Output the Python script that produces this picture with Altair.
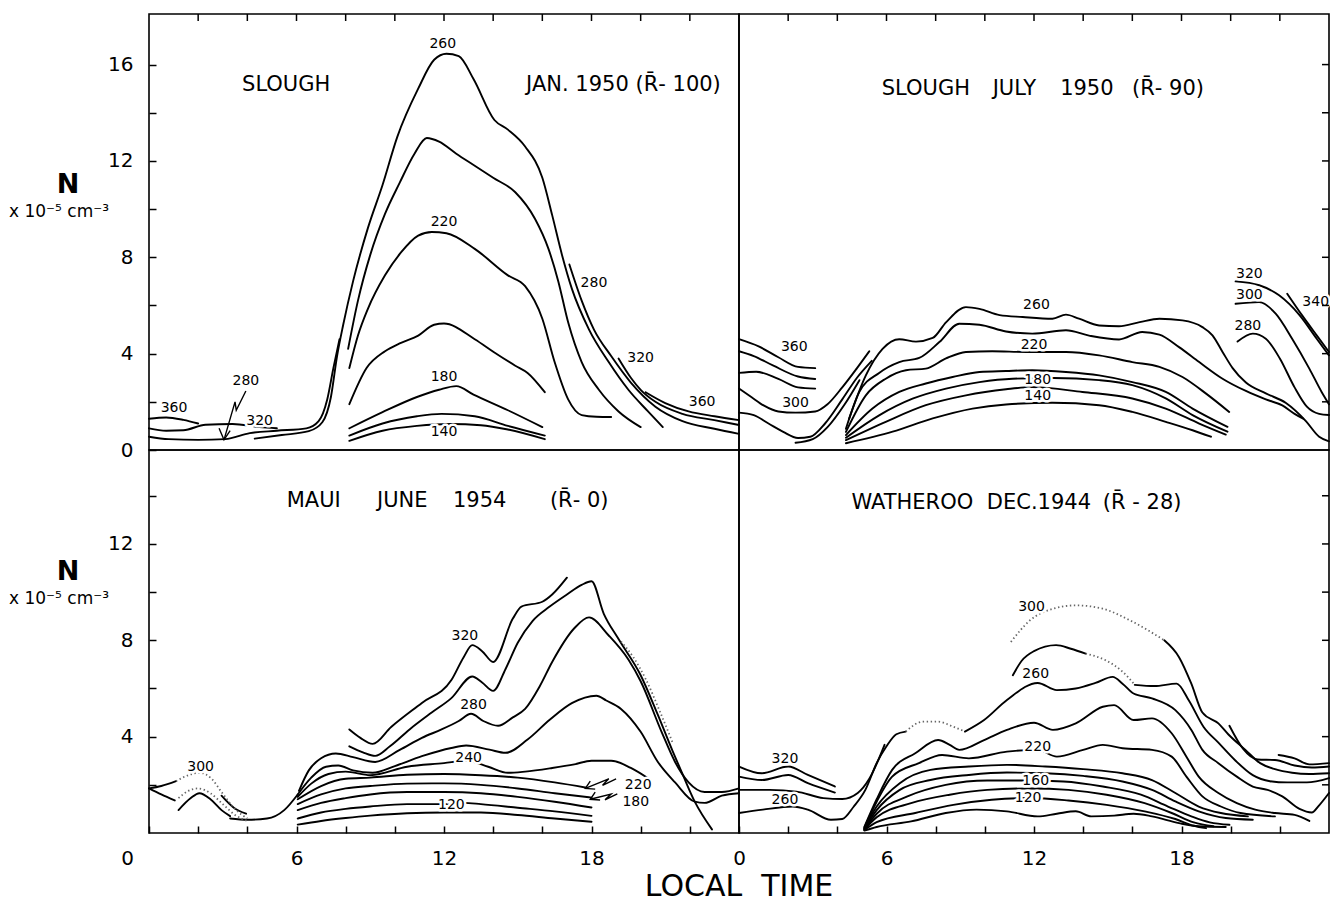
import altair as alt
import pandas as pd

FONT = "DejaVu Sans"
W = 590
H_TOP = 436
H_BOT = 383
Y_TOP_MAX = 18.1
Y_BOT_MAX = 15.9

# ---------------- tick positions ----------------
X_TICKS = [0, 2, 4, 6, 8, 10, 12, 14, 16, 18, 20, 22]
X_EDGE_TICKS = [2, 4, 6, 8, 10, 12, 14, 16, 18, 20, 22]
Y_TICKS_TOP = [0, 2, 4, 6, 8, 10, 12, 14, 16]
Y_TICKS_BOT = [2, 4, 6, 8, 10, 12, 14]

# ---------------- SLOUGH  JAN. 1950 ----------------
JAN_360_NIGHT = [(0.0, 1.3), (0.7, 1.35), (1.4, 1.25), (2.0, 1.1)]
JAN_320_NIGHT = [(0.0, 0.9), (0.7, 0.8), (1.4, 0.82), (2.3, 1.05), (3.4, 1.08), (4.5, 0.95), (5.2, 0.9)]
JAN_280_NIGHT = [(0.0, 0.55), (0.8, 0.45), (2.0, 0.42), (3.1, 0.45), (4.1, 0.7), (5.2, 0.8), (6.4, 0.9),
                 (6.9, 1.2), (7.25, 2.1), (7.5, 3.4), (7.75, 4.6)]
JAN_260 = [(4.3, 0.47), (5.4, 0.62), (6.5, 0.78), (7.05, 1.15), (7.4, 2.2), (7.65, 3.9), (7.9, 5.2), (8.3, 7.0),
           (8.9, 9.2), (9.5, 11.0), (10.1, 13.0), (10.95, 15.0), (11.6, 16.2), (12.1, 16.45), (12.6, 16.35),
           (13.2, 15.4), (14.05, 13.7), (14.6, 13.3), (15.3, 12.6), (16.0, 11.3), (16.4, 9.75), (16.8, 8.1),
           (17.2, 6.7), (17.9, 5.0), (18.7, 3.65), (19.5, 2.5), (20.3, 1.6), (20.9, 0.95)]
JAN_240 = [(8.1, 4.2), (8.5, 6.2), (9.0, 8.1), (9.6, 9.8), (10.2, 11.1), (10.8, 12.3), (11.3, 12.95), (11.8, 12.8),
           (12.5, 12.3), (13.25, 11.8), (14.0, 11.3), (14.9, 10.7), (15.7, 9.6), (16.25, 8.35), (16.65, 7.0),
           (17.05, 5.3), (17.6, 3.65), (18.3, 2.5), (19.1, 1.6), (20.0, 0.95)]
JAN_220 = [(8.15, 3.4), (8.5, 4.75), (8.9, 5.85), (9.6, 7.25), (10.25, 8.2), (10.95, 8.9), (11.5, 9.05), (12.1, 9.0),
           (13.25, 8.35), (14.6, 7.25), (15.3, 6.8), (16.0, 5.45), (16.5, 3.65), (17.05, 2.1), (17.6, 1.45),
           (18.2, 1.38), (18.8, 1.37)]
JAN_200 = [(8.15, 1.9), (8.85, 3.4), (9.6, 4.1), (10.25, 4.45), (10.95, 4.75), (11.6, 5.2), (12.0, 5.25),
           (13.25, 4.6), (14.05, 4.05), (14.9, 3.5), (15.4, 3.2), (16.1, 2.4)]
JAN_180 = [(8.15, 0.9), (9.5, 1.57), (10.9, 2.2), (11.8, 2.5), (12.5, 2.65), (13.2, 2.3), (14.6, 1.65), (16.0, 0.95)]
JAN_160 = [(8.15, 0.6), (9.5, 1.1), (10.9, 1.4), (11.9, 1.5), (13.25, 1.4), (14.6, 1.0), (16.1, 0.6)]
JAN_140 = [(8.15, 0.38), (9.5, 0.8), (10.9, 1.0), (12.25, 1.08), (13.5, 1.03), (14.6, 0.85), (16.1, 0.45)]
JAN_280_EVE = [(17.1, 7.7), (17.6, 6.2), (18.1, 5.0), (18.8, 3.9), (19.6, 2.8), (20.6, 1.8), (21.7, 1.2),
               (23.0, 0.88), (24.0, 0.67)]
JAN_320_EVE = [(19.1, 3.8), (19.6, 3.0), (20.0, 2.5), (20.6, 2.0), (21.7, 1.5), (23.0, 1.24), (24.0, 1.04)]
JAN_360_EVE = [(20.2, 2.4), (21.0, 1.95), (21.95, 1.6), (23.0, 1.4), (24.0, 1.24)]
JAN_ARROW = [(3.94, 2.45), (3.55, 1.65), (3.5, 2.0), (3.05, 0.42)]
JAN_ARROW_HEAD = [(2.85, 0.9), (3.05, 0.42), (3.3, 0.8)]
JAN_LABELS = [("360", 1.02, 1.75), ("280", 3.94, 2.86), ("320", 4.5, 1.2), ("260", 11.95, 16.85),
              ("220", 12.0, 9.45), ("180", 12.0, 3.05), ("140", 12.0, 0.75), ("280", 18.1, 6.95),
              ("320", 20.0, 3.8), ("360", 22.5, 2.0)]
JAN_TITLES = [("SLOUGH", 5.58, 15.15), ("JAN. 1950 (R\u0304- 100)", 19.3, 15.15)]

# ---------------- SLOUGH  JULY 1950 ----------------
JUL_360_NIGHT = [(0.0, 4.6), (0.8, 4.3), (1.6, 3.85), (2.4, 3.45), (3.1, 3.4)]
JUL_340_NIGHT = [(0.0, 4.1), (0.6, 3.9), (1.4, 3.5), (2.4, 3.05), (3.1, 2.95)]
JUL_320_NIGHT = [(0.0, 3.2), (0.7, 3.25), (1.6, 2.95), (2.4, 2.6), (3.1, 2.55)]
JUL_300_NIGHT = [(0.0, 2.55), (0.5, 2.2), (1.0, 1.85), (1.6, 1.6), (2.3, 1.55), (3.1, 1.6), (3.6, 1.9),
                 (4.2, 2.6), (4.8, 3.4), (5.3, 4.1)]
JUL_280_NIGHT = [(0.0, 1.55), (0.6, 1.45), (1.2, 1.1), (1.8, 0.75), (2.4, 0.5), (2.9, 0.55), (3.5, 1.1),
                 (4.2, 2.1), (4.8, 3.0), (5.4, 3.7)]
JUL_260_NIGHT = [(2.3, 0.3), (3.0, 0.45), (3.6, 0.95), (4.3, 1.9), (4.9, 2.9)]
JUL_260 = [(4.48, 1.3), (5.16, 3.1), (5.84, 4.2), (6.52, 4.6), (7.2, 4.5), (7.88, 4.65), (8.42, 5.3), (9.23, 5.93),
           (9.78, 5.86), (10.6, 5.6), (11.54, 5.52), (12.75, 5.45), (13.3, 5.62), (13.83, 5.45), (14.65, 5.17),
           (15.46, 5.14), (16.3, 5.31), (17.1, 5.45), (18.04, 5.38), (18.85, 5.1), (19.26, 4.76), (19.67, 4.07),
           (20.08, 3.4), (20.62, 2.8), (21.43, 2.35), (22.25, 1.95), (23.06, 1.2), (23.6, 0.55), (24.0, 0.36)]
JUL_240 = [(4.35, 0.88), (4.89, 2.4), (5.7, 3.2), (6.52, 3.65), (7.33, 3.82), (8.15, 4.48), (8.96, 5.24),
           (9.78, 5.2), (10.86, 4.92), (11.93, 4.83), (13.3, 4.97), (14.24, 4.75), (15.46, 4.59), (16.4, 4.9),
           (17.1, 4.79), (17.9, 4.27), (18.72, 3.65), (19.67, 2.96), (20.62, 2.45), (21.43, 2.1), (22.1, 1.85),
           (22.6, 1.5), (22.95, 1.3)]
JUL_220 = [(4.35, 0.75), (5.16, 2.27), (5.97, 2.96), (6.79, 3.31), (7.6, 3.38), (8.42, 3.8), (9.23, 4.07),
           (10.3, 4.1), (11.68, 4.07), (13.3, 4.07), (14.65, 3.93), (16.0, 3.65), (17.1, 3.45), (18.04, 3.03),
           (19.0, 2.34), (19.94, 1.58)]
JUL_200 = [(4.35, 0.62), (5.43, 1.72), (6.52, 2.41), (7.6, 2.76), (8.69, 3.03), (9.78, 3.24), (10.86, 3.28),
           (11.93, 3.31), (13.3, 3.24), (14.65, 3.1), (16.0, 2.82), (17.36, 2.41), (18.45, 1.72), (19.87, 0.96)]
JUL_180 = [(4.35, 0.51), (5.7, 1.44), (7.06, 2.13), (8.42, 2.55), (9.78, 2.82), (11.13, 2.96), (12.8, 2.99),
           (14.65, 2.9), (16.0, 2.69), (17.36, 2.14), (18.45, 1.45), (19.87, 0.76)]
JUL_160 = [(4.35, 0.41), (5.97, 1.17), (7.6, 1.86), (9.23, 2.27), (10.86, 2.52), (11.93, 2.61), (13.97, 2.41),
           (16.0, 2.14), (17.36, 1.72), (18.72, 1.1), (19.8, 0.64)]
JUL_140 = [(4.35, 0.28), (6.25, 0.76), (7.88, 1.31), (9.5, 1.72), (10.86, 1.89), (12.75, 1.96), (14.65, 1.86),
           (16.0, 1.58), (17.36, 1.17), (18.45, 0.82), (19.2, 0.55)]
JUL_280_EVE = [(20.28, 4.5), (20.9, 4.83), (21.43, 4.62), (22.0, 3.8), (22.6, 2.6), (23.1, 1.8), (23.6, 1.5),
               (24.0, 1.45)]
JUL_300_EVE = [(20.2, 6.07), (21.16, 6.14), (21.84, 5.65), (22.5, 4.62), (23.2, 3.38), (23.7, 2.41), (24.0, 1.9)]
JUL_320_EVE = [(20.2, 7.0), (21.16, 6.84), (21.97, 6.42), (22.8, 5.6), (23.5, 4.62), (24.0, 3.93)]
JUL_340_EVE = [(22.3, 6.49), (22.9, 5.6), (23.5, 4.76), (24.0, 4.07)]
JUL_LABELS = [("360", 2.25, 4.27), ("300", 2.3, 1.96), ("260", 12.1, 6.0), ("220", 12.0, 4.35),
              ("180", 12.15, 2.9), ("140", 12.15, 2.24), ("320", 20.76, 7.32), ("300", 20.76, 6.42),
              ("280", 20.7, 5.14), ("340", 23.46, 6.14)]
JUL_TITLES = [("SLOUGH", 7.6, 15.0), ("JULY", 11.2, 15.0), ("1950", 14.15, 15.0), ("(R\u0304- 90)", 17.45, 15.0)]

# ---------------- MAUI  JUNE 1954 ----------------
MAUI_300_EARLY = [(0.0, 1.85), (0.5, 1.95), (1.1, 2.15)]
MAUI_300_DOTTED = [(1.1, 2.15), (1.6, 2.4), (2.05, 2.5), (2.55, 2.25), (2.95, 1.7), (3.5, 1.0), (4.0, 0.6)]
MAUI_260_EARLY = [(0.0, 1.85), (0.5, 1.6), (1.05, 1.35)]
MAUI_260_DOTTED = [(1.2, 1.45), (1.6, 1.75), (2.0, 1.85), (2.5, 1.65), (3.0, 1.2), (3.5, 0.75), (4.0, 0.5)]
MAUI_220_NIGHT = [(1.2, 0.95), (1.7, 1.45), (2.05, 1.65), (2.5, 1.4), (2.95, 0.95), (3.3, 0.7)]
MAUI_300_LATE = [(2.95, 1.55), (3.45, 1.05), (3.95, 0.8)]
MAUI_DAWN = [(3.3, 0.6), (4.0, 0.55), (4.8, 0.6), (5.5, 0.95), (6.05, 1.6)]
MAUI_320 = [(8.15, 4.3), (8.6, 3.95), (9.1, 3.7), (9.85, 4.4), (11.1, 5.4), (12.3, 6.35), (12.8, 7.3),
            (13.15, 7.8), (13.55, 7.55), (14.0, 7.1), (14.8, 8.9), (15.15, 9.4), (16.0, 9.6), (16.4, 9.9),
            (17.0, 10.6)]
MAUI_300 = [(8.15, 3.6), (8.7, 3.35), (9.2, 3.2), (9.8, 3.6), (10.6, 4.3), (11.5, 5.0), (12.3, 5.6), (13.15, 6.5),
            (13.55, 6.25), (14.0, 5.9), (14.5, 6.8), (15.0, 7.9), (15.6, 8.8), (16.3, 9.4), (17.0, 9.9),
            (17.6, 10.3), (18.0, 10.45), (18.5, 9.1), (19.1, 8.05), (20.0, 6.55), (20.7, 4.9), (21.3, 3.4),
            (21.7, 2.45), (22.2, 1.3), (22.9, 0.15)]
MAUI_300_EVE_DOTTED = [(19.2, 7.95), (19.7, 7.3), (20.2, 6.4), (20.8, 5.0), (21.3, 3.75)]
MAUI_280 = [(6.1, 1.75), (6.5, 2.6), (7.0, 3.1), (7.6, 3.3), (8.3, 3.15), (9.2, 2.95), (10.2, 3.45), (11.1, 3.95),
            (11.9, 4.3), (12.6, 4.65), (13.1, 4.95), (13.6, 4.65), (14.2, 4.45), (14.8, 4.8), (15.3, 5.15),
            (15.9, 6.1), (16.4, 7.1), (17.3, 8.5), (17.9, 8.95), (18.7, 8.2), (19.5, 7.2), (20.0, 6.3),
            (20.85, 4.2), (21.4, 2.95), (21.95, 2.1), (22.6, 1.7), (23.3, 1.7), (24.0, 1.85)]
MAUI_260 = [(6.05, 1.6), (6.6, 2.3), (7.2, 2.75), (7.7, 2.8), (8.3, 2.6), (9.1, 2.5), (10.0, 2.78), (11.1, 3.19),
            (12.3, 3.53), (12.9, 3.63), (13.85, 3.46), (14.5, 3.33), (15.4, 3.88), (16.3, 4.7), (17.2, 5.39),
            (18.2, 5.7), (18.6, 5.5), (19.2, 5.15), (20.0, 4.2), (20.7, 2.95), (21.4, 2.1), (22.2, 1.3),
            (22.6, 1.25), (23.3, 1.55), (24.0, 1.65)]
MAUI_240 = [(6.05, 1.5), (6.6, 2.05), (7.3, 2.45), (8.0, 2.55), (9.0, 2.4), (10.5, 2.75), (12.0, 2.9), (12.9, 3.0),
            (13.8, 2.75), (14.6, 2.5), (15.3, 2.55), (16.4, 2.7), (17.3, 2.85), (18.0, 3.0), (18.8, 3.0),
            (19.6, 2.7), (20.4, 2.2)]
MAUI_220 = [(6.05, 1.4), (7.0, 1.95), (8.0, 2.25), (9.0, 2.3), (10.5, 2.42), (12.0, 2.45), (13.5, 2.4),
            (15.0, 2.3), (16.5, 2.1), (17.8, 1.88)]
MAUI_200 = [(6.05, 1.2), (7.0, 1.6), (8.0, 1.85), (9.0, 1.95), (10.5, 2.05), (12.0, 2.06), (13.5, 2.0),
            (15.0, 1.85), (16.5, 1.65), (18.0, 1.47)]
MAUI_180 = [(6.05, 0.95), (7.0, 1.25), (8.0, 1.45), (9.0, 1.6), (10.5, 1.7), (12.0, 1.7), (13.5, 1.65),
            (15.0, 1.5), (16.5, 1.3), (18.0, 1.06)]
MAUI_140 = [(6.05, 0.6), (7.0, 0.85), (8.0, 1.0), (9.0, 1.1), (10.5, 1.2), (12.0, 1.2), (12.8, 1.25), (13.5, 1.2),
            (15.0, 1.05), (16.5, 0.9), (18.0, 0.71)]
MAUI_120 = [(6.05, 0.35), (7.0, 0.5), (8.0, 0.62), (9.0, 0.72), (10.5, 0.82), (12.0, 0.85), (13.5, 0.85),
            (15.0, 0.75), (16.5, 0.6), (18.0, 0.47)]
MAUI_ARROW_220 = [(19.0, 2.25), (18.45, 1.98), (18.7, 2.25), (17.75, 1.85)]
MAUI_ARROW_220_HEAD = [(17.95, 2.15), (17.75, 1.85), (18.15, 1.82)]
MAUI_ARROW_180 = [(19.05, 1.62), (18.55, 1.38), (18.8, 1.62), (17.95, 1.4)]
MAUI_ARROW_180_HEAD = [(18.15, 1.7), (17.95, 1.4), (18.35, 1.37)]
MAUI_LABELS = [("300", 2.1, 2.75), ("320", 12.85, 8.17), ("280", 13.2, 5.3), ("240", 13.0, 3.1),
               ("220", 19.9, 2.0), ("180", 19.8, 1.29), ("120", 12.3, 1.16)]
MAUI_TITLES = [("MAUI", 6.7, 13.8), ("JUNE", 10.3, 13.8), ("1954", 13.45, 13.8), ("(R\u0304- 0)", 17.5, 13.8)]

# ---------------- WATHEROO  DEC. 1944 ----------------
WAT_320_NIGHT = [(0.0, 2.76), (0.93, 2.48), (2.0, 2.76), (2.8, 2.41), (3.9, 1.93)]
WAT_300_NIGHT = [(0.0, 2.34), (0.93, 2.2), (2.0, 2.41), (2.8, 2.07), (3.9, 1.68)]
WAT_280_NIGHT = [(0.0, 1.79), (1.25, 1.79), (2.34, 1.72), (3.43, 1.45), (4.2, 1.41), (4.83, 1.66), (5.3, 2.25),
                 (5.92, 3.66)]
WAT_260_NIGHT = [(0.0, 0.83), (0.97, 0.97), (2.18, 1.1), (2.8, 0.97), (3.74, 0.55), (4.2, 0.58), (4.67, 1.1),
                 (5.14, 1.79), (5.6, 2.9), (6.0, 3.6), (6.4, 4.1), (6.78, 4.21)]
WAT_260_DOTTED = [(6.78, 4.21), (7.48, 4.62), (8.1, 4.62), (8.72, 4.41), (9.19, 4.21)]
WAT_260 = [(9.19, 4.21), (9.97, 4.69), (10.9, 5.52), (12.15, 6.23), (12.93, 5.93), (13.7, 6.0), (14.5, 6.23),
           (15.2, 6.48), (15.6, 6.2), (16.05, 5.79), (16.8, 5.59), (17.75, 5.1), (18.4, 4.28), (18.85, 3.45),
           (19.5, 2.9), (20.25, 2.34), (20.9, 1.93), (21.5, 1.79), (22.1, 1.52), (22.8, 1.0), (23.3, 0.85),
           (23.6, 1.15), (24.0, 1.66)]
WAT_240 = [(5.1, 0.25), (5.6, 1.4), (6.23, 2.62), (7.17, 3.31), (8.1, 3.86), (8.57, 3.66), (8.96, 3.45),
           (9.97, 3.86), (10.9, 4.28), (12.0, 4.58), (12.77, 4.28), (13.7, 4.55), (14.8, 5.24), (15.26, 5.31),
           (16.05, 4.69), (16.8, 4.76), (17.6, 4.14), (18.2, 3.17), (18.7, 2.34), (19.5, 1.66), (20.25, 1.24),
           (21.0, 0.97), (21.8, 0.83), (22.6, 0.75), (23.2, 0.5)]
WAT_220 = [(5.1, 0.22), (5.6, 1.3), (6.23, 2.34), (7.32, 2.9), (8.26, 3.24), (9.35, 3.1), (10.9, 3.38),
           (12.15, 3.45), (12.93, 3.17), (14.0, 3.45), (14.8, 3.66), (15.6, 3.52), (16.8, 3.45), (17.6, 3.17),
           (18.2, 2.34), (18.85, 1.52), (19.6, 1.1), (20.4, 0.83), (21.8, 0.69)]
WAT_200 = [(5.1, 0.2), (5.6, 1.1), (6.54, 2.07), (7.79, 2.62), (9.35, 2.76), (10.9, 2.83), (12.46, 2.76),
           (14.0, 2.65), (15.6, 2.48), (16.8, 2.2), (17.75, 1.66), (18.7, 1.1), (19.6, 0.83), (20.7, 0.69)]
WAT_180 = [(5.1, 0.18), (5.6, 0.95), (6.54, 1.79), (7.79, 2.2), (9.35, 2.41), (10.9, 2.51), (12.46, 2.48),
           (14.0, 2.37), (15.6, 2.14), (16.8, 1.79), (17.75, 1.31), (18.7, 0.9), (19.8, 0.62), (20.9, 0.55)]
WAT_160 = [(5.1, 0.16), (5.6, 0.8), (6.85, 1.52), (8.41, 2.0), (10.1, 2.18), (11.7, 2.18), (13.2, 2.14),
           (14.8, 1.93), (16.35, 1.59), (17.45, 1.1), (18.4, 0.69), (19.15, 0.44), (19.95, 0.34)]
WAT_140 = [(5.1, 0.14), (5.6, 0.65), (7.0, 1.24), (8.57, 1.59), (10.1, 1.79), (11.84, 1.85), (13.4, 1.79),
           (14.95, 1.59), (16.5, 1.24), (17.6, 0.83), (18.5, 0.44), (19.3, 0.28)]
WAT_120 = [(5.1, 0.12), (5.6, 0.45), (7.17, 0.83), (8.72, 1.17), (10.28, 1.38), (11.84, 1.45), (13.4, 1.35),
           (14.95, 1.17), (16.5, 0.9), (17.75, 0.58), (18.5, 0.3), (19.0, 0.2)]
WAT_100 = [(5.1, 0.1), (5.6, 0.25), (7.0, 0.48), (8.41, 0.83), (9.66, 0.97), (10.9, 0.9), (12.15, 0.69),
           (12.93, 0.8), (13.7, 0.9), (14.33, 0.69), (15.26, 0.72), (16.05, 0.8), (16.8, 0.69), (17.9, 0.41),
           (18.7, 0.28), (19.8, 0.25)]
WAT_280_NOON = [(11.14, 6.55), (11.5, 7.15), (12.0, 7.55), (12.9, 7.8), (13.5, 7.65), (14.1, 7.45)]
WAT_280_DOTTED = [(14.1, 7.45), (14.95, 7.15), (15.6, 6.7), (16.1, 6.15)]
WAT_280_EVE = [(16.1, 6.15), (16.9, 6.1), (17.8, 6.2), (18.3, 5.5), (18.9, 4.4), (19.5, 3.75), (20.2, 3.0),
               (20.9, 2.4), (21.6, 2.15), (22.3, 2.1), (23.1, 2.1), (24.0, 2.28)]
WAT_300_DOTTED = [(11.06, 7.93), (11.84, 8.83), (12.77, 9.31), (13.7, 9.45), (14.8, 9.31), (15.9, 8.83),
                  (17.3, 8.0)]
WAT_300_EVE = [(17.3, 8.0), (17.9, 7.3), (18.4, 6.2), (18.85, 5.0), (19.5, 4.55), (19.9, 4.1), (20.6, 3.45),
               (21.2, 2.9), (21.8, 2.65), (22.5, 2.5), (23.2, 2.45), (24.0, 2.48)]
WAT_320_EVE = [(19.95, 4.45), (20.5, 3.5), (21.1, 3.05), (21.8, 3.03), (22.6, 2.8), (23.3, 2.72), (24.0, 2.76)]
WAT_340_EVE = [(21.95, 3.24), (22.6, 3.1), (23.2, 2.85), (24.0, 2.9)]
WAT_LABELS = [("320", 1.87, 3.06), ("260", 1.87, 1.38), ("300", 11.9, 9.4), ("260", 12.07, 6.62),
              ("220", 12.15, 3.59), ("160", 12.07, 2.14), ("120", 11.76, 1.45)]
WAT_TITLES = [("WATHEROO", 7.05, 13.7), ("DEC.1944", 12.2, 13.7), ("(R\u0304 - 28)", 16.4, 13.7)]

UNITS = "x 10\u207b\u2075 cm\u207b\u00b3"
NBSP = "\u00a0"


def seg_df(segs):
    rows = []
    for k, pts in enumerate(segs):
        for i, (t, n) in enumerate(pts):
            rows.append({"seg": k, "i": i, "t": t, "n": n})
    return pd.DataFrame(rows)


def lab_df(labels):
    return pd.DataFrame([{"txt": s, "t": t, "n": n} for s, t, n in labels])


def make_panel(solid, dotted, arrows, labels, titles, ymax, h,
               left_ticks=None, left_expr=None, bottom_expr=None, shift_zero=False,
               top_ticks=False, right_ticks=None, ylab_y=None, local_time=False):
    xs = alt.Scale(domain=[0, 24], nice=False, zero=False)
    ys = alt.Scale(domain=[0, ymax], nice=False, zero=False)
    if bottom_expr is None:
        xaxis = None
    else:
        extra = {}
        if shift_zero:
            extra["labelOffset"] = alt.condition("datum.value == 0", alt.value(-22), alt.value(0))
        xaxis = alt.Axis(values=X_TICKS, labelExpr=bottom_expr, domain=False, ticks=True, tickSize=7,
                         tickWidth=1.5, tickColor="black", offset=-7, labelPadding=15, labelFontSize=20,
                         labelFont=FONT, labelColor="black", grid=False, labelFlush=False, labelOverlap=False,
                         **extra)
    if left_ticks is None:
        yaxis = None
    else:
        yaxis = alt.Axis(values=left_ticks, labelExpr=left_expr, domain=False, ticks=True, tickSize=7,
                         tickWidth=1.5, tickColor="black", offset=-7, labelPadding=16, labelFontSize=20,
                         labelFont=FONT, labelColor="black", grid=False, labelFlush=False, labelOverlap=False)
    xenc = alt.X("t:Q", scale=xs, axis=xaxis, title=None)
    yenc = alt.Y("n:Q", scale=ys, axis=yaxis, title=None)

    layers = [
        alt.Chart(seg_df(solid)).mark_line(interpolate="monotone", color="black", strokeWidth=1.9,
                                            strokeJoin="round", strokeCap="round").encode(
            x=xenc, y=yenc, detail="seg:N", order="i:Q"),
    ]
    if dotted:
        layers.append(alt.Chart(seg_df(dotted)).mark_line(interpolate="monotone", color="#666666",
                                                           strokeWidth=1.8, strokeDash=[1.4, 2.6]).encode(
            x=xenc, y=yenc, detail="seg:N", order="i:Q"))
    if arrows:
        layers.append(alt.Chart(seg_df(arrows)).mark_line(interpolate="linear", color="black",
                                                           strokeWidth=1.4).encode(
            x=xenc, y=yenc, detail="seg:N", order="i:Q"))
    ldf = lab_df(labels)
    layers.append(alt.Chart(ldf).mark_text(font=FONT, fontSize=14, color="white", stroke="white",
                                           strokeWidth=5, strokeJoin="round").encode(
        x=xenc, y=yenc, text="txt:N"))
    layers.append(alt.Chart(ldf).mark_text(font=FONT, fontSize=14, color="black").encode(
        x=xenc, y=yenc, text="txt:N"))
    layers.append(alt.Chart(lab_df(titles)).mark_text(font=FONT, fontSize=21, color="black").encode(
        x=xenc, y=yenc, text="txt:N"))
    if top_ticks:
        layers.append(alt.Chart(pd.DataFrame({"t": X_EDGE_TICKS})).mark_rule(color="black", strokeWidth=1.5).encode(
            x=xenc, y=alt.value(0), y2=alt.value(7)))
    if right_ticks is not None:
        layers.append(alt.Chart(pd.DataFrame({"n": right_ticks})).mark_rule(color="black", strokeWidth=1.5).encode(
            y=yenc, x=alt.value(W - 7), x2=alt.value(W)))
    if ylab_y is not None:
        layers.append(alt.Chart(pd.DataFrame({"s": ["N"]})).mark_text(
            font=FONT, fontSize=27, fontWeight="bold", color="black").encode(
            x=alt.value(-81), y=alt.value(ylab_y), text="s:N"))
        layers.append(alt.Chart(pd.DataFrame({"s": [UNITS]})).mark_text(
            font=FONT, fontSize=17, color="black", align="left").encode(
            x=alt.value(-140), y=alt.value(ylab_y + 27), text="s:N"))
    if local_time:
        layers.append(alt.Chart(pd.DataFrame({"s": ["LOCAL" + NBSP + NBSP + "TIME"]})).mark_text(
            font=FONT, fontSize=30, color="black", baseline="alphabetic").encode(
            x=alt.value(W), y=alt.value(h + 63), text="s:N"))
    return alt.layer(*layers).properties(width=W, height=h)


jan = make_panel(
    solid=[JAN_360_NIGHT, JAN_320_NIGHT, JAN_280_NIGHT, JAN_260, JAN_240, JAN_220, JAN_200, JAN_180,
           JAN_160, JAN_140, JAN_280_EVE, JAN_320_EVE, JAN_360_EVE],
    dotted=[], arrows=[JAN_ARROW, JAN_ARROW_HEAD], labels=JAN_LABELS, titles=JAN_TITLES,
    ymax=Y_TOP_MAX, h=H_TOP, left_ticks=Y_TICKS_TOP,
    left_expr="datum.value % 4 == 0 ? datum.label : ''", top_ticks=True, ylab_y=171)

jul = make_panel(
    solid=[JUL_360_NIGHT, JUL_340_NIGHT, JUL_320_NIGHT, JUL_300_NIGHT, JUL_280_NIGHT, JUL_260_NIGHT,
           JUL_260, JUL_240, JUL_220, JUL_200, JUL_180, JUL_160, JUL_140, JUL_280_EVE, JUL_300_EVE,
           JUL_320_EVE, JUL_340_EVE],
    dotted=[], arrows=[], labels=JUL_LABELS, titles=JUL_TITLES,
    ymax=Y_TOP_MAX, h=H_TOP, top_ticks=True, right_ticks=Y_TICKS_TOP[1:])

maui = make_panel(
    solid=[MAUI_300_EARLY, MAUI_260_EARLY, MAUI_220_NIGHT, MAUI_300_LATE, MAUI_DAWN, MAUI_320, MAUI_300,
           MAUI_280, MAUI_260, MAUI_240, MAUI_220, MAUI_200, MAUI_180, MAUI_140, MAUI_120],
    dotted=[MAUI_300_DOTTED, MAUI_260_DOTTED, MAUI_300_EVE_DOTTED],
    arrows=[MAUI_ARROW_220, MAUI_ARROW_220_HEAD, MAUI_ARROW_180, MAUI_ARROW_180_HEAD],
    labels=MAUI_LABELS, titles=MAUI_TITLES, ymax=Y_BOT_MAX, h=H_BOT,
    left_ticks=Y_TICKS_BOT, left_expr="datum.value % 4 == 0 ? datum.label : ''",
    bottom_expr="datum.value % 6 == 0 ? datum.label : ''", shift_zero=True,
    ylab_y=122, local_time=True)

wat = make_panel(
    solid=[WAT_320_NIGHT, WAT_300_NIGHT, WAT_280_NIGHT, WAT_260_NIGHT, WAT_260, WAT_240, WAT_220, WAT_200,
           WAT_180, WAT_160, WAT_140, WAT_120, WAT_100, WAT_280_NOON, WAT_280_EVE, WAT_300_EVE,
           WAT_320_EVE, WAT_340_EVE],
    dotted=[WAT_260_DOTTED, WAT_280_DOTTED, WAT_300_DOTTED], arrows=[],
    labels=WAT_LABELS, titles=WAT_TITLES, ymax=Y_BOT_MAX, h=H_BOT,
    bottom_expr="datum.value % 6 == 0 ? datum.label : ''", right_ticks=Y_TICKS_BOT)

chart = alt.concat(jan, jul, maui, wat, columns=2, spacing=0, bounds="flush", align="each").properties(
    padding={"left": 0, "top": 4, "right": 0, "bottom": 0}
).configure_view(stroke="black", strokeWidth=1.6).configure_axis(grid=False)

chart.save("out.html", embed_options={"renderer": "svg", "actions": False})
